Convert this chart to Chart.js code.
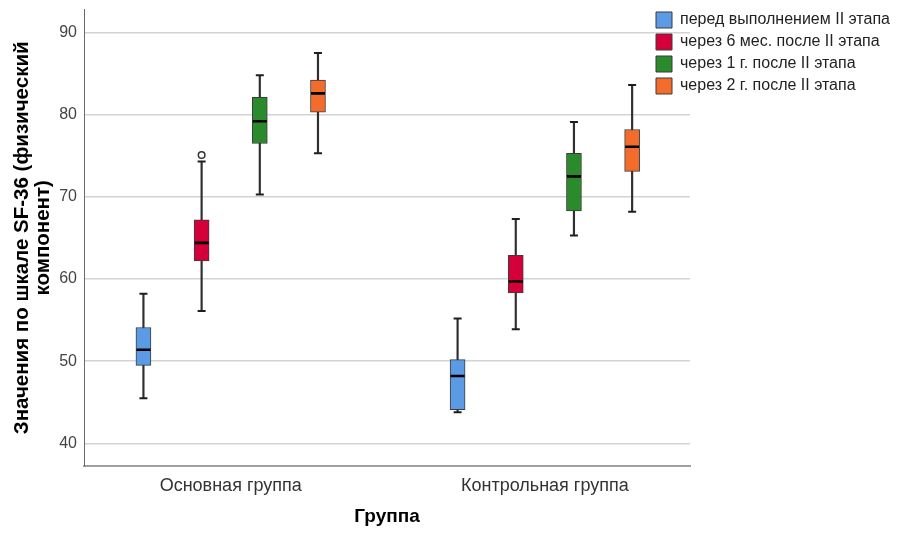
<!DOCTYPE html>
<html>
<head>
<meta charset="utf-8">
<script src="https://cdn.jsdelivr.net/npm/chart.js@4/dist/chart.umd.min.js"></script>
<style>
  html, body { margin: 0; padding: 0; background: #ffffff; }
  #wrap { width: 899px; height: 536px; position: relative; }
</style>
</head>
<body>
<div id="wrap"><canvas id="c" width="899" height="536"></canvas></div>
<script>
// ---- data ----
const groups = ['Основная группа', 'Контрольная группа'];
const seriesNames = ['перед выполнением II этапа', 'через 6 мес. после II этапа', 'через 1 г. после II этапа', 'через 2 г. после II этапа'];
const seriesColors = ['#5b9be6', '#d5003a', '#2b8a2b', '#f46c2c'];

// per series: [Основная, Контрольная]
const whiskerLow  = [[45.5, 43.8], [56.1, 53.9], [70.3, 65.3], [75.3, 68.2]];
const q1          = [[49.5, 44.1], [62.2, 58.3], [76.5, 68.3], [80.3, 73.1]];
const median      = [[51.4, 48.2], [64.4, 59.7], [79.2, 72.5], [82.6, 76.1]];
const q3          = [[54.1, 50.2], [67.2, 62.9], [82.1, 75.3], [84.2, 78.2]];
const whiskerHigh = [[58.2, 55.2], [74.3, 67.3], [84.8, 79.1], [87.5, 83.6]];
// outliers: [seriesIndex, groupIndex, value]
const outliers = [[1, 0, 75.1]];

const yTicks = [40, 50, 60, 70, 80, 90];

// ---- layout constants ----
const SLOT = 0.1852; // distance between box centres within a group, in category units
const xPos = (si, gi) => gi + (si - 1.5) * SLOT;

Chart.defaults.font.family = "'Liberation Sans', Arial, sans-serif";
Chart.defaults.color = '#333';

const datasets = [];
// boxes
seriesNames.forEach((name, si) => {
  datasets.push({
    type: 'bar', label: name, order: 2, grouped: false,
    data: groups.map((g, gi) => ({ x: xPos(si, gi), y: [q1[si][gi], q3[si][gi]] })),
    backgroundColor: seriesColors[si], borderColor: '#3c3c3c', borderWidth: 1,
    borderSkipped: false, barThickness: 15
  });
});
// whisker stems
seriesNames.forEach((name, si) => {
  datasets.push({
    type: 'bar', label: 'w' + si, order: 4, grouped: false,
    data: groups.map((g, gi) => ({ x: xPos(si, gi), y: [whiskerLow[si][gi], whiskerHigh[si][gi]] })),
    backgroundColor: '#2e2e2e', borderWidth: 0, barThickness: 1.5
  });
});
// whisker caps
seriesNames.forEach((name, si) => {
  const pts = [];
  groups.forEach((g, gi) => {
    pts.push({ x: xPos(si, gi), y: whiskerLow[si][gi] });
    pts.push({ x: xPos(si, gi), y: whiskerHigh[si][gi] });
  });
  datasets.push({
    type: 'scatter', label: 'c' + si, order: 1, data: pts,
    pointStyle: 'line', pointRadius: 4, pointBorderWidth: 2, borderColor: '#1e1e1e', backgroundColor: '#1e1e1e'
  });
});
// medians
seriesNames.forEach((name, si) => {
  datasets.push({
    type: 'scatter', label: 'm' + si, order: 0,
    data: groups.map((g, gi) => ({ x: xPos(si, gi), y: median[si][gi] })),
    pointStyle: 'line', pointRadius: 7, pointBorderWidth: 2.6, borderColor: '#000', backgroundColor: '#000'
  });
});
// outliers
datasets.push({
  type: 'scatter', label: 'o', order: 0,
  data: outliers.map(o => ({ x: xPos(o[0], o[1]), y: o[2] })),
  pointStyle: 'circle', pointRadius: 3.3, pointBorderWidth: 1.5, borderColor: '#333', backgroundColor: '#fff'
});

const legendMover = {
  id: 'legendMover',
  afterLayout(chart) {
    const lg = chart.legend;
    if (!lg) return;
    lg.left = 650; lg.right = 899; lg.width = 249;
    lg.top = 6; lg.bottom = 110; lg.height = 104;
  }
};

new Chart(document.getElementById('c'), {
  type: 'bar',
  data: { datasets },
  plugins: [legendMover],
  options: {
    responsive: false,
    animation: false,
    layout: { padding: { top: 8, left: 0, right: 208, bottom: 0 } },
    plugins: {
      tooltip: { enabled: false },
      legend: {
        display: true, position: 'right', align: 'start', maxWidth: 1,
        labels: {
          boxWidth: 16, boxHeight: 16, padding: 6, color: '#222', font: { size: 16 },
          filter: (item) => item.datasetIndex < seriesNames.length,
          sort: (a, b) => a.datasetIndex - b.datasetIndex
        }
      }
    },
    scales: {
      x: {
        type: 'linear', min: -0.467, max: 1.462, offset: false,
        afterBuildTicks: (s) => { s.ticks = groups.map((g, i) => ({ value: i })); },
        afterFit: (s) => { s.height = 70; s.paddingLeft = 0; s.paddingRight = 0; },
        grid: { display: false, drawTicks: false },
        border: { display: true, color: '#a0a0a0', width: 2 },
        ticks: { padding: 9, color: '#333', font: { size: 18 }, maxRotation: 0, callback: (v) => groups[v] },
        title: { display: true, text: 'Группа', color: '#000', font: { size: 19, weight: 'bold' }, padding: { top: 0, bottom: 8 } }
      },
      y: {
        type: 'linear', min: 37.25, max: 92.79,
        afterBuildTicks: (s) => { s.ticks = yTicks.map(v => ({ value: v })); },
        afterFit: (s) => { s.width = 84; s.paddingTop = 0; s.paddingBottom = 0; },
        grid: { color: '#d3d3d3', lineWidth: 1.5, drawTicks: false },
        border: { display: true, color: '#6a6a6a', width: 1 },
        ticks: { padding: 7, color: '#444', font: { size: 16 } },
        title: { display: true, text: ['Значения по шкале SF-36 (физический', 'компонент)'], color: '#000', font: { size: 20.5, weight: 'bold', lineHeight: 1.03 }, padding: { top: 11.5, bottom: 0 } }
      }
    }
  }
});
</script>
</body>
</html>
